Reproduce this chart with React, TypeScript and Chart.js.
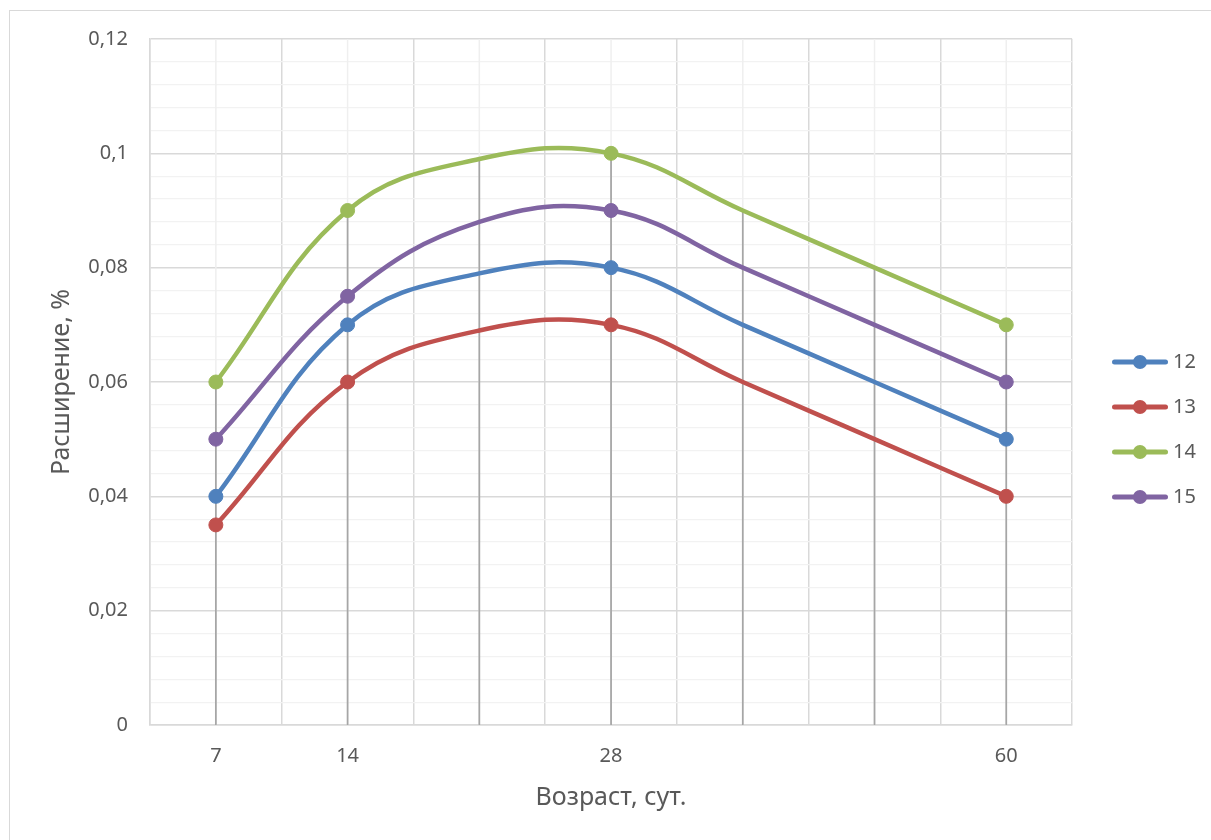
import React, { useEffect, useRef } from 'react';
import { Chart, registerables } from 'chart.js';

Chart.register(...registerables);

// ---- data ----
const ageLabels = ['7', '14', '', '28', '', '', '60'];
const seriesNames = ['12', '13', '14', '15'];
const series12 = [0.04, 0.07, 0.079, 0.08, 0.07, 0.06, 0.05];
const series13 = [0.035, 0.06, 0.069, 0.07, 0.06, 0.05, 0.04];
const series14 = [0.06, 0.09, 0.099, 0.1, 0.09, 0.08, 0.07];
const series15 = [0.05, 0.075, 0.088, 0.09, 0.08, 0.07, 0.06];
const markerShown = [true, true, false, true, false, false, true];
const yMin = 0;
const yMax = 0.12;
const yMajorStep = 0.02;
const yMinorStep = 0.004;
const xTitle = 'Возраст, сут.';
const yTitle = 'Расширение, %';

// ---- styles ----
const seriesColors = ['#4F81BD', '#C0504D', '#9BBB59', '#8064A2'];
const FONT = '"Noto Sans", "DejaVu Sans", sans-serif';
const TEXT_COLOR = '#595959';

const isMajor = (v: number) => Math.abs(Math.round(v / yMinorStep)) % Math.round(yMajorStep / yMinorStep) === 0;
const fmt = (v: number) => String(Number(v.toFixed(4))).replace('.', ',');

function makeLegendIcon(color: string) {
  const c = document.createElement('canvas');
  c.width = 56;
  c.height = 18;
  const g = c.getContext('2d')!;
  g.strokeStyle = color;
  g.lineWidth = 5;
  g.lineCap = 'round';
  g.beginPath();
  g.moveTo(2.5, 9);
  g.lineTo(53.5, 9);
  g.stroke();
  g.fillStyle = color;
  g.beginPath();
  g.arc(28, 9, 7, 0, Math.PI * 2);
  g.fill();
  return c;
}

const gridAndDropLines = {
  id: 'gridAndDropLines',
  beforeDatasetsDraw(chart: any) {
    const { ctx, chartArea, scales } = chart;
    const x = scales.x;
    const y = scales.y;
    const n = chart.data.labels.length;
    ctx.save();
    for (let i = 0; i < n; i++) {
      const px = x.getPixelForValue(i);
      ctx.strokeStyle = '#efefef';
      ctx.lineWidth = 1.5;
      ctx.beginPath();
      ctx.moveTo(px, chartArea.top);
      ctx.lineTo(px, chartArea.bottom);
      ctx.stroke();
      const vals = chart.data.datasets.map((d: any) => d.data[i]);
      const top = y.getPixelForValue(Math.max(...vals));
      ctx.strokeStyle = '#a6a6a6';
      ctx.lineWidth = 1.75;
      ctx.beginPath();
      ctx.moveTo(px, y.getPixelForValue(yMin));
      ctx.lineTo(px, top);
      ctx.stroke();
    }
    ctx.restore();
  },
};

// legend placement (canvas coordinates)
const LEGEND_PAD = 25;
const LEGEND_BOX_W = 46;
const LEGEND_ITEM_X = 1107;
const LEGEND_FIRST_TOP = 341;

const legendPlacer = {
  id: 'legendPlacer',
  afterLayout(chart: any) {
    const lg = chart.legend;
    if (!lg) return;
    const colH = lg.columnSizes && lg.columnSizes[0] ? lg.columnSizes[0].height : 4 * (20 + LEGEND_PAD);
    const curY = (lg.top + LEGEND_PAD + lg.bottom - colH) / 2;
    const dy = LEGEND_FIRST_TOP - curY;
    const dx = LEGEND_ITEM_X - (lg.left + LEGEND_PAD);
    lg.left += dx;
    lg.right += dx;
    lg.top += dy;
    lg.bottom += dy;
  },
};

export default function App() {
  const ref = useRef<HTMLCanvasElement>(null);

  useEffect(() => {
    const data = [series12, series13, series14, series15];
    const icons = seriesColors.map(makeLegendIcon);
    const radii = markerShown.map((m) => (m ? 7 : 0));
    const chart = new Chart(ref.current!, {
      type: 'line',
      data: {
        labels: ageLabels,
        datasets: data.map((d, i) => ({
          label: seriesNames[i],
          data: d,
          borderColor: seriesColors[i],
          backgroundColor: seriesColors[i],
          borderWidth: 4.5,
          tension: 0.4,
          fill: false,
          borderCapStyle: 'round',
          borderJoinStyle: 'round',
          pointRadius: radii,
          pointHoverRadius: radii,
          pointBackgroundColor: seriesColors[i],
          pointBorderColor: seriesColors[i],
          pointBorderWidth: 1,
        })),
      },
      options: {
        responsive: false,
        animation: false,
        events: [],
        layout: { padding: { left: 20, top: 28, right: 25, bottom: 27 } },
        plugins: {
          tooltip: { enabled: false },
          legend: {
            position: 'right',
            align: 'center',
            labels: {
              usePointStyle: true,
              pointStyleWidth: LEGEND_BOX_W,
              padding: LEGEND_PAD,
              color: TEXT_COLOR,
              font: { family: FONT, size: 20 },
              generateLabels: (c: any) =>
                c.data.datasets.map((ds: any, i: number) => ({
                  text: ds.label,
                  pointStyle: icons[i],
                  fillStyle: ds.borderColor,
                  strokeStyle: ds.borderColor,
                  lineWidth: 0,
                  hidden: false,
                  datasetIndex: i,
                  fontColor: TEXT_COLOR,
                })),
            },
          },
        },
        scales: {
          x: {
            type: 'category',
            offset: true,
            grid: { offset: true, color: '#d9d9d9', lineWidth: 1.5, drawTicks: false },
            border: { color: '#d9d9d9', width: 1.5 },
            ticks: {
              autoSkip: false,
              maxRotation: 0,
              padding: 19,
              color: TEXT_COLOR,
              font: { family: FONT, size: 20 },
            },
            title: {
              display: true,
              text: xTitle,
              color: TEXT_COLOR,
              font: { family: FONT, size: 25 },
              padding: { top: 0, bottom: 0 },
            },
            afterFit: (s: any) => {
              s.height = 88;
            },
          },
          y: {
            type: 'linear',
            min: yMin,
            max: yMax,
            grid: {
              drawTicks: true,
              tickLength: 22,
              tickColor: 'rgba(0,0,0,0)',
              color: (c: any) => (c.tick && isMajor(c.tick.value) ? '#d9d9d9' : '#f2f2f2'),
              lineWidth: (c: any) => (c.tick && isMajor(c.tick.value) ? 1.5 : 1.25),
            },
            border: { color: '#d9d9d9', width: 1.5 },
            ticks: {
              stepSize: yMinorStep,
              autoSkip: false,
              padding: 0,
              color: TEXT_COLOR,
              font: { family: FONT, size: 20 },
              callback: (v: any) => (isMajor(Number(v)) ? fmt(Number(v)) : ''),
            },
            title: {
              display: true,
              text: yTitle,
              color: TEXT_COLOR,
              font: { family: FONT, size: 25 },
              padding: { top: 17, bottom: 0 },
            },
            afterFit: (s: any) => {
              s.width = 120;
            },
          },
        },
      },
      plugins: [gridAndDropLines, legendPlacer],
    } as any);
    return () => chart.destroy();
  }, []);

  return (
    <div
      style={{
        position: 'fixed',
        left: 9,
        top: 10,
        width: 1202,
        height: 830,
        boxSizing: 'border-box',
        borderLeft: '1px solid #d9d9d9',
        borderTop: '1px solid #d9d9d9',
        background: '#fff',
        overflow: 'hidden',
      }}
    >
      <canvas ref={ref} width={1201} height={829} style={{ display: 'block' }} />
    </div>
  );
}
